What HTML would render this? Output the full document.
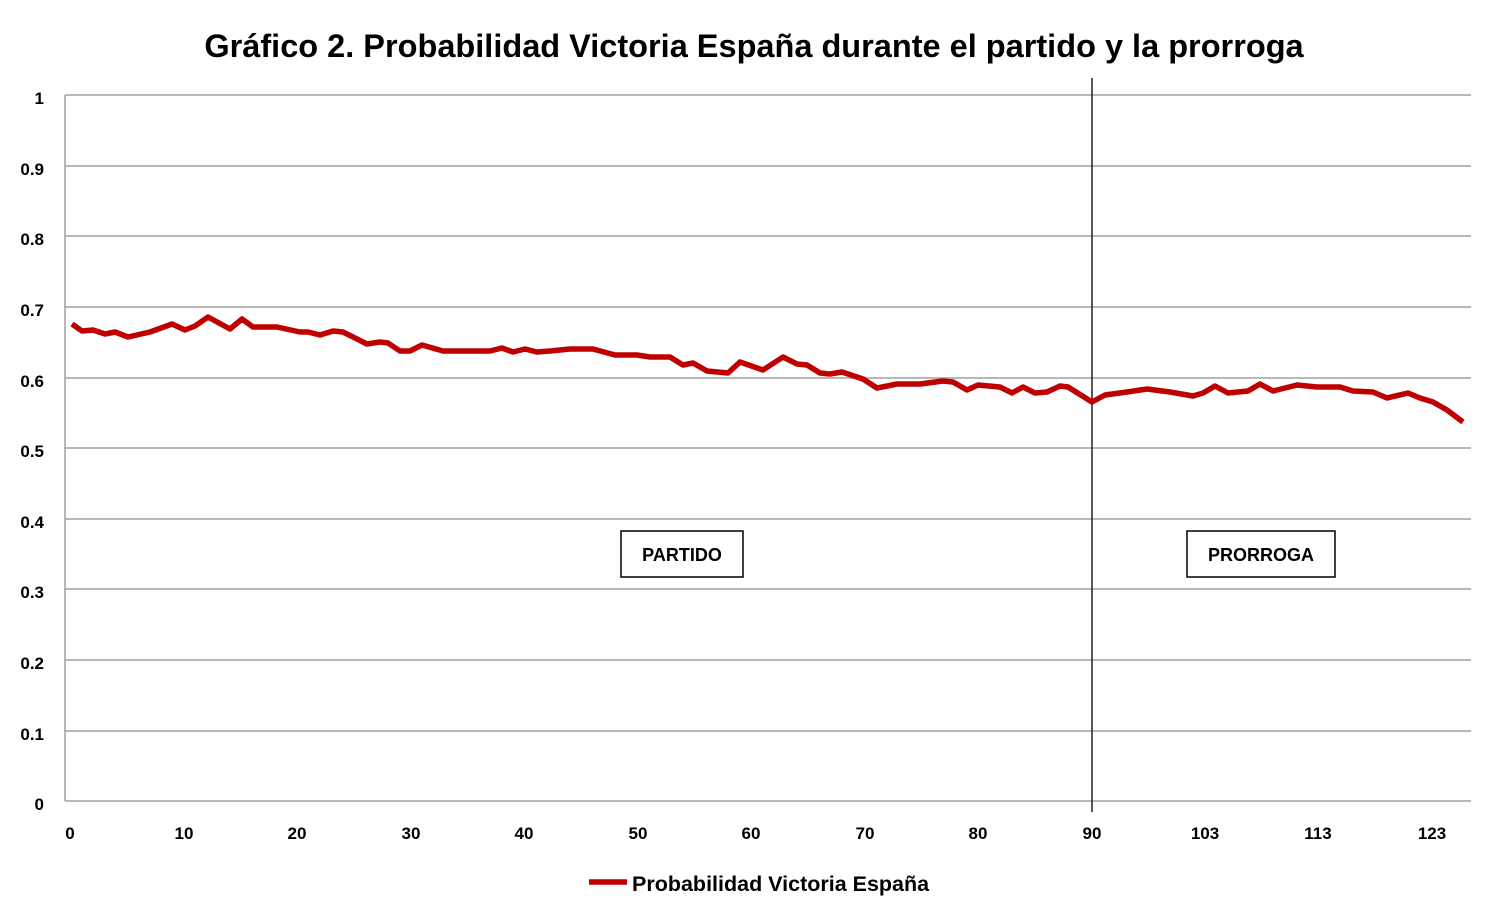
<!DOCTYPE html>
<html><head><meta charset="utf-8"><style>body{margin:0;background:#fff}svg{display:block}</style></head><body>
<svg width="1511" height="922" xmlns="http://www.w3.org/2000/svg" font-family="Liberation Sans, sans-serif" font-weight="bold">
<text x="754" y="57" text-anchor="middle" font-size="32.5">Gráfico 2. Probabilidad Victoria España durante el partido y la prorroga</text>
<g stroke="#a0a0a0" stroke-width="1.5">
<line x1="65" y1="95" x2="1471" y2="95"/><line x1="65" y1="166" x2="1471" y2="166"/><line x1="65" y1="236" x2="1471" y2="236"/><line x1="65" y1="307" x2="1471" y2="307"/><line x1="65" y1="378" x2="1471" y2="378"/><line x1="65" y1="448" x2="1471" y2="448"/><line x1="65" y1="519" x2="1471" y2="519"/><line x1="65" y1="589" x2="1471" y2="589"/><line x1="65" y1="660" x2="1471" y2="660"/><line x1="65" y1="731" x2="1471" y2="731"/><line x1="65" y1="801" x2="1471" y2="801"/>
<line x1="65" y1="95" x2="65" y2="801"/>
</g>
<g font-size="17" text-anchor="end">
<text x="44" y="104">1</text><text x="44" y="175">0.9</text><text x="44" y="245">0.8</text><text x="44" y="316">0.7</text><text x="44" y="387">0.6</text><text x="44" y="457">0.5</text><text x="44" y="528">0.4</text><text x="44" y="598">0.3</text><text x="44" y="669">0.2</text><text x="44" y="740">0.1</text><text x="44" y="810">0</text>
</g>
<g font-size="17" text-anchor="middle">
<text x="70" y="839">0</text><text x="184" y="839">10</text><text x="297" y="839">20</text><text x="411" y="839">30</text><text x="524" y="839">40</text><text x="638" y="839">50</text><text x="751" y="839">60</text><text x="865" y="839">70</text><text x="978" y="839">80</text><text x="1092" y="839">90</text><text x="1205" y="839">103</text><text x="1318" y="839">113</text><text x="1432" y="839">123</text>
</g>
<line x1="1092" y1="78" x2="1092" y2="812" stroke="#222" stroke-width="1.5"/>
<polyline fill="none" stroke="#c00000" stroke-width="5.5" stroke-linejoin="round" points="72,324 82,331 93,330 105,334 115,332 128,337 150,332 172,324 185,330 195,326 208,317 230,329 242,319 253,327 277,327 300,332 308,332 320,335 333,331 343,332 367,344 380,342 388,343 400,351 410,351 422,345 443,351 490,351 502,348 513,352 525,349 537,352 550,351 570,349 593,349 615,355 637,355 650,357 670,357 683,365 693,363 707,371 728,373 740,362 763,370 783,357 797,364 807,365 820,373 830,374 842,372 863,379 877,388 897,384 920,384 943,381 953,382 967,390 978,385 1000,387 1012,393 1023,387 1035,393 1047,392 1060,386 1068,387 1092,402 1105,395 1127,392 1147,389 1170,392 1193,396 1203,393 1215,386 1228,393 1248,391 1260,384 1273,391 1297,385 1317,387 1340,387 1353,391 1373,392 1387,398 1408,393 1420,398 1433,402 1447,410 1463,422"/>
<rect x="621" y="531" width="122" height="46" fill="#fff" stroke="#000" stroke-width="1.5"/>
<text x="682" y="561" font-size="18" text-anchor="middle">PARTIDO</text>
<rect x="1187" y="531" width="148" height="46" fill="#fff" stroke="#000" stroke-width="1.5"/>
<text x="1261" y="561" font-size="18" text-anchor="middle">PRORROGA</text>
<line x1="589" y1="882" x2="627" y2="882" stroke="#c00000" stroke-width="5.5"/>
<text x="632" y="891" font-size="21.5">Probabilidad Victoria España</text>
</svg>
</body></html>
